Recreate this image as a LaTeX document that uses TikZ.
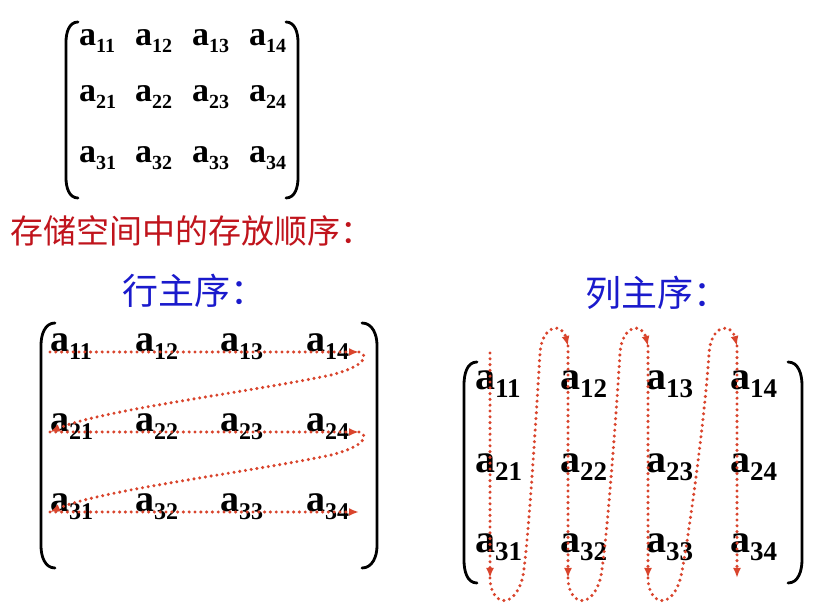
\documentclass[tikz,border=0pt]{standalone}
\usepackage{fontspec}
\setmainfont{Liberation Serif}
\newfontfamily\cjk{Noto Sans CJK SC}
\usetikzlibrary{arrows.meta}
\definecolor{dotred}{HTML}{D9442C}
\definecolor{capred}{HTML}{C0141C}
\definecolor{capblue}{HTML}{1A1ACC}
\newcommand\elem[1]{\textbf{a}\raisebox{-\subdrop}{\fontsize{\subfs}{\subfs}\selectfont\bfseries #1}}
\tikzset{
  ent/.style={anchor=base west, inner sep=0pt},
  topent/.style={ent, font=\fontsize{34}{34}\selectfont\def\subfs{20}\def\subdrop{7pt}},
  rowent/.style={ent, font=\fontsize{38}{38}\selectfont\def\subfs{24}\def\subdrop{8pt}},
  colent/.style={ent, font=\fontsize{40}{40}\selectfont\def\subfs{27}\def\subdrop{8pt}},
  brk/.style={draw=black, line width=2.8pt, line cap=round},
  caption/.style={anchor=west, inner sep=0pt, font=\cjk\fontsize{33}{33}\selectfont, text=capred},
  subcap/.style={anchor=west, inner sep=0pt, font=\cjk\fontsize{36}{36}\selectfont, text=capblue},
  flow/.style={draw=dotred, line width=3.4pt, line cap=round, dash pattern=on 0pt off 5.8pt,
               -{Latex[length=10pt,width=8pt]}}
}

\begin{document}
\begin{tikzpicture}[x=1pt,y=-1pt]
  \useasboundingbox[fill=white] (0,0) rectangle (831,609);

  % the matrix
  \foreach \r/\y in {1/46,2/102,3/163}
    \foreach \c/\x in {1/79,2/135,3/192,4/249}
      \node[topent] (t\r\c) at (\x,\y) {\elem{\r\c}};
  \draw[brk] (78,22) to[out=180,in=90] (66,42) -- (66,178) to[out=-90,in=180] (78,198);
  \draw[brk] (286,22) to[out=0,in=90] (298,42) -- (298,178) to[out=-90,in=0] (286,198);

  \node[caption] (store) at (10,231) {存储空间中的存放顺序：};
  \node[subcap] (rowcap) at (122,291) {行主序：};
  \node[subcap] (colcap) at (585,293) {列主序：};

  % row major
  \foreach \r/\y in {1/352,2/432,3/512}
    \foreach \c/\x in {1/50,2/135,3/220,4/306}
      \node[rowent] (r\r\c) at (\x,\y) {\elem{\r\c}};
  \draw[brk] (55,323) to[out=180,in=90] (41,345) -- (41,546) to[out=-90,in=180] (55,568);
  \draw[brk] (362,323) to[out=0,in=90] (377,345) -- (377,546) to[out=-90,in=0] (362,568);

  % column major
  \foreach \r/\y in {1/390,2/473,3/553}
    \foreach \c/\x in {1/475,2/560,3/646,4/730}
      \node[colent] (c\r\c) at (\x,\y) {\elem{\r\c}};
  \draw[brk] (477,362) to[out=180,in=90] (464,385) -- (464,560) to[out=-90,in=180] (477,583);
  \draw[brk] (788,362) to[out=0,in=90] (802,385) -- (802,560) to[out=-90,in=0] (788,583);

  % storage paths
  \foreach \r/\y in {1/352,2/432,3/512} {
    \coordinate (rowL\r) at (50,\y);
    \coordinate (rowR\r) at (359,\y);
  }
  \foreach \r in {1,2,3}
    \draw[flow] (rowL\r) -- (rowR\r);
  \foreach \a/\b in {1/2,2/3}
    \draw[flow] (rowR\a) .. controls +(10,3) and +(35,-9) .. ++(-28,23)
                .. controls +(-80,17) and +(50,-22) .. (rowL\b);

  \foreach \c/\x in {1/490,2/568,3/648,4/737} {
    \coordinate (colT\c) at (\x,346);
    \coordinate (colB\c) at (\x,578);
  }
  \coordinate (colT1) at (490,353);
  \foreach \c in {1,2,3,4}
    \draw[flow] (colT\c) -- (colB\c);
  \foreach \a/\b/\xa/\xb in {1/2/490/568,2/3/568/648,3/4/648/737}
    \draw[flow] (colB\a) .. controls (\xa,603) and (\xa+22,612) .. (\xa+32,580)
                .. controls (\xa+37,564) and (\xb-32,420) .. (\xb-28,353)
                .. controls (\xb-26,325) and (\xb-6,322) .. (colT\b);
\end{tikzpicture}
\end{document}
